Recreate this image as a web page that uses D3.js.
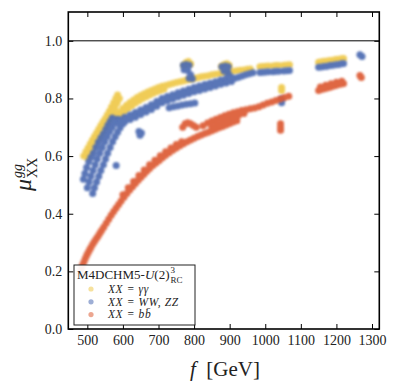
<!DOCTYPE html>
<html>
<head>
<meta charset="utf-8">
<script src="https://cdn.jsdelivr.net/npm/d3@7"></script>
<style>
  body { margin: 0; background: #fff; }
  text { font-family: "Liberation Serif", "DejaVu Serif", serif; }
</style>
</head>
<body>
<svg id="chart" width="399" height="391"></svg>
<script>
// tick values
var xTicks = [500, 600, 700, 800, 900, 1000, 1100, 1200, 1300];
var yTicks = [0, 0.2, 0.4, 0.6, 0.8, 1.0];
var refLine = [1.0];

// XX = gamma gamma  [f, mu]
var gammaPts = [
  [490,0.600],[496,0.615],[502,0.628],[508,0.642],[514,0.655],[520,0.668],[526,0.680],[532,0.693],
  [538,0.706],[544,0.718],[550,0.730],[556,0.743],[562,0.756],[568,0.770],[574,0.785],[580,0.800],[585,0.812],
  [500,0.595],[506,0.610],[512,0.622],[518,0.636],[524,0.650],[530,0.662],[536,0.675],[542,0.688],
  [548,0.700],[554,0.713],[560,0.726],[566,0.740],[572,0.755],[578,0.770],[584,0.785],[590,0.800],
  [580,0.740],[590,0.752],[600,0.765],[610,0.776],[620,0.786],[630,0.795],[640,0.803],[650,0.810],
  [660,0.816],[670,0.822],[680,0.828],[690,0.833],[700,0.838],[710,0.842],[720,0.845],[730,0.848],
  [740,0.852],[750,0.855],[760,0.858],[770,0.861],[780,0.864],[790,0.867],[800,0.870],[810,0.872],
  [820,0.875],[830,0.877],[840,0.879],[850,0.882],[860,0.884],[870,0.886],[880,0.888],[890,0.890],
  [900,0.892],[910,0.894],[920,0.896],[930,0.898],[940,0.899],[950,0.901],[958,0.902],
  [595,0.742],[605,0.754],[615,0.765],[625,0.775],[635,0.784],[645,0.792],[655,0.800],[665,0.806],
  [675,0.812],[685,0.818],[695,0.823],[705,0.828],[715,0.832],
  [772,0.915],[778,0.925],[784,0.928],[790,0.920],[878,0.912],[885,0.918],[892,0.920],[898,0.915],
  [985,0.910],[993,0.911],[1001,0.912],[1009,0.913],[1022,0.913],[1030,0.914],[1038,0.914],
  [1052,0.915],[1060,0.916],[1068,0.917],
  [1150,0.926],[1158,0.927],[1166,0.929],[1174,0.930],[1182,0.932],[1190,0.933],[1198,0.935],
  [1206,0.936],[1214,0.938],[1220,0.939],
  [1046,0.828],[1046,0.838]
];

// XX = WW, ZZ
var wwzzPts = [
  [489,0.520],[493,0.540],[498,0.560],[504,0.580],[510,0.595],[517,0.610],[524,0.630],[531,0.648],
  [538,0.663],[545,0.677],[552,0.692],[558,0.707],[564,0.720],[570,0.732],
  [500,0.490],[505,0.510],[510,0.530],[516,0.550],[522,0.570],[528,0.590],[535,0.610],[542,0.630],
  [549,0.650],[556,0.668],[563,0.685],[570,0.700],[577,0.715],[584,0.728],
  [515,0.470],[520,0.490],[526,0.510],[532,0.530],[538,0.550],[545,0.570],[551,0.590],[557,0.610],
  [564,0.630],[571,0.650],[578,0.667],[585,0.683],[592,0.698],[600,0.712],
  [590,0.727],[605,0.735],[620,0.743],[635,0.751],[650,0.760],[665,0.769],[680,0.778],[695,0.789],
  [710,0.800],[725,0.807],[740,0.813],[755,0.820],[770,0.826],[785,0.832],[800,0.838],[815,0.843],
  [830,0.848],[845,0.853],[860,0.858],[875,0.864],[890,0.869],[905,0.874],
  [590,0.711],[605,0.719],[620,0.727],[635,0.735],[650,0.744],[665,0.753],[680,0.762],[695,0.773],
  [710,0.785],[725,0.792],[740,0.798],[755,0.805],[770,0.811],[785,0.817],[800,0.823],[815,0.828],
  [830,0.833],[845,0.838],[860,0.843],[875,0.849],[890,0.854],[905,0.859],
  [915,0.870],[925,0.874],[935,0.878],[945,0.882],[955,0.886],[965,0.889],
  [730,0.768],[742,0.771],[754,0.774],[766,0.777],[778,0.780],[790,0.782],[802,0.784],
  [770,0.915],[778,0.918],[786,0.915],[772,0.900],[782,0.897],[790,0.882],[795,0.868],[786,0.870],
  [878,0.910],[888,0.913],[896,0.910],[884,0.895],[895,0.890],[900,0.878],
  [645,0.685],[652,0.680],[648,0.672],[581,0.567],
  [985,0.890],[993,0.891],[1001,0.892],[1009,0.893],[1022,0.893],[1030,0.894],[1038,0.894],
  [1052,0.895],[1060,0.896],[1068,0.897],
  [1150,0.908],[1158,0.909],[1166,0.911],[1174,0.912],[1182,0.914],[1190,0.915],[1198,0.917],
  [1206,0.918],[1214,0.920],[1220,0.921],
  [1046,0.785],[1046,0.797],[1266,0.952],[1272,0.946]
];

// XX = b bbar
var bbPts = [
  [478,0.190],[482,0.205],[486,0.220],[490,0.232],[494,0.244],[498,0.255],[502,0.265],[506,0.274],
  [510,0.283],[515,0.294],[520,0.304],[525,0.313],[530,0.322],[535,0.332],[540,0.342],[546,0.353],
  [553,0.367],[560,0.381],[567,0.395],[574,0.408],[581,0.420],[588,0.432],[595,0.444],[603,0.457],
  [611,0.470],[619,0.482],[627,0.494],[635,0.505],[643,0.516],[651,0.527],[659,0.537],[667,0.547],
  [675,0.557],[684,0.567],[693,0.576],[702,0.585],[711,0.594],[720,0.603],[730,0.612],[740,0.620],
  [750,0.628],[760,0.636],[770,0.643],[780,0.650],[790,0.656],[800,0.662],[810,0.668],[820,0.673],
  [830,0.678],[840,0.683],[850,0.688],[860,0.693],[870,0.698],[880,0.703],[890,0.708],[900,0.713],
  [910,0.718],[920,0.723],
  [600,0.466],[615,0.490],[630,0.512],[645,0.533],[660,0.552],[675,0.570],[690,0.586],[705,0.601],
  [720,0.615],[735,0.628],[750,0.640],[765,0.650],
  [768,0.700],[775,0.712],[782,0.716],[790,0.712],[798,0.706],[806,0.700],
  [825,0.705],[838,0.715],[850,0.722],[862,0.728],[874,0.734],[886,0.740],[898,0.745],[910,0.750],
  [922,0.754],[934,0.758],[946,0.761],[958,0.764],[970,0.767],[982,0.771],[994,0.777],[1006,0.783],
  [1018,0.788],[1030,0.793],[1042,0.798],[1054,0.803],[1066,0.808],
  [850,0.700],[865,0.710],[880,0.720],[895,0.728],[910,0.735],[925,0.742],[940,0.748],
  [1043,0.690],[1043,0.700],[1043,0.712],
  [1150,0.828],[1158,0.831],[1166,0.834],[1174,0.836],[1182,0.839],[1190,0.842],[1198,0.845],
  [1206,0.848],[1214,0.850],[1220,0.852],
  [1155,0.840],[1170,0.846],[1185,0.851],[1200,0.856],[1215,0.860],
  [1266,0.880],[1270,0.873]
];

var seriesNames = ["gamma", "wwzz", "bb"];
var seriesColors = ["#efc94c", "#4d6cb2", "#dd5c35"];
var legendLabels = ["XX = \u03b3\u03b3", "XX = WW, ZZ", "XX = bb\u0304"];

var svg = d3.select("#chart");
var plotL = 68.3, plotR = 379.3, plotT = 12, plotB = 329;

var x = d3.scaleLinear().domain([446.5, 1320.5]).range([plotL, plotR]);
var y = d3.scaleLinear().domain([0, 1.1]).range([plotB, plotT]);

// soft edges so the dense scatter reads as smooth bands
svg.append("defs").append("filter")
  .attr("id", "soft")
  .attr("x", "-10%").attr("y", "-10%").attr("width", "120%").attr("height", "120%")
  .append("feGaussianBlur").attr("stdDeviation", 0.9);

// points
var allSeries = [gammaPts, wwzzPts, bbPts];
allSeries.forEach(function (pts, i) {
  svg.append("g")
    .attr("class", "series-" + seriesNames[i])
    .attr("filter", "url(#soft)")
    .attr("opacity", 0.93)
    .selectAll("circle")
    .data(pts)
    .enter().append("circle")
    .attr("cx", function (d) { return x(d[0]); })
    .attr("cy", function (d) { return y(d[1]); })
    .attr("r", 3.5)
    .attr("fill", seriesColors[i]);
});

// reference line at 1.0
svg.selectAll(".ref")
  .data(refLine)
  .enter().append("line")
  .attr("class", "ref")
  .attr("x1", plotL).attr("x2", plotR)
  .attr("y1", function (d) { return y(d); })
  .attr("y2", function (d) { return y(d); })
  .attr("stroke", "#000")
  .attr("stroke-width", 1);

// axes with inward ticks
var fmtY = d3.format(".1f");
var fmtX = d3.format("d");
var gx = svg.append("g").attr("transform", "translate(0," + plotB + ")")
  .call(d3.axisBottom(x).tickValues(xTicks).tickSizeInner(-5).tickSizeOuter(0).tickPadding(6).tickFormat(fmtX));
var gxt = svg.append("g").attr("transform", "translate(0," + plotT + ")")
  .call(d3.axisTop(x).tickValues(xTicks).tickSizeInner(-5).tickSizeOuter(0).tickFormat(""));
var gy = svg.append("g").attr("transform", "translate(" + plotL + ",0)")
  .call(d3.axisLeft(y).tickValues(yTicks).tickSizeInner(-5).tickSizeOuter(0).tickPadding(6).tickFormat(fmtY));
var gyr = svg.append("g").attr("transform", "translate(" + plotR + ",0)")
  .call(d3.axisRight(y).tickValues(yTicks).tickSizeInner(-5).tickSizeOuter(0).tickFormat(""));

[gx, gxt, gy, gyr].forEach(function (g) {
  g.select(".domain").remove();
  g.selectAll("line").attr("stroke", "#000").attr("stroke-width", 1);
  g.selectAll("text")
    .attr("fill", "#222")
    .style("font-family", "'Liberation Serif', serif")
    .style("font-size", "14px");
});

// frame
svg.append("rect")
  .attr("x", plotL).attr("y", plotT)
  .attr("width", plotR - plotL).attr("height", plotB - plotT)
  .attr("fill", "none")
  .attr("stroke", "#000")
  .attr("stroke-width", 1.6);

// x label
var xl = svg.append("text")
  .attr("x", 225).attr("y", 376)
  .attr("text-anchor", "middle")
  .style("font-size", "21px")
  .attr("fill", "#222");
xl.append("tspan").style("font-style", "italic").text("f");
xl.append("tspan").text("\u2002[GeV]");

// y label
var yl = svg.append("g").attr("transform", "translate(31,191) rotate(-90)");
var mu = yl.append("text").attr("x", 0).attr("y", 0)
  .style("font-size", "24px").style("font-style", "italic").attr("fill", "#222").text("\u03bc");
var muW = mu.node().getComputedTextLength();
yl.append("text").attr("x", muW + 1).attr("y", -9)
  .style("font-size", "14px").style("font-style", "italic").attr("fill", "#222").text("gg");
yl.append("text").attr("x", muW + 1).attr("y", 6)
  .style("font-size", "14px").attr("fill", "#222").text("XX");

// legend
var leg = svg.append("g");
leg.append("rect")
  .attr("x", 74).attr("y", 265).attr("width", 121).attr("height", 60)
  .attr("fill", "#fff").attr("fill-opacity", 0.92)
  .attr("stroke", "#222").attr("stroke-width", 1);

var title = leg.append("text").attr("x", 77).attr("y", 279)
  .style("font-size", "13px").attr("fill", "#222");
title.append("tspan").text("M4DCHM5-");
title.append("tspan").style("font-style", "italic").text("U");
title.append("tspan").text("(2)");
var tW = title.node().getComputedTextLength();
leg.append("text").attr("x", 77 + tW + 1).attr("y", 273)
  .style("font-size", "9px").attr("fill", "#222").text("3");
leg.append("text").attr("x", 77 + tW + 1).attr("y", 283)
  .style("font-size", "9px").attr("fill", "#222").text("RC");

leg.selectAll(".lm")
  .data(legendLabels)
  .enter().append("circle")
  .attr("class", "lm")
  .attr("cx", 91)
  .attr("cy", function (d, i) { return 289 + i * 12.8; })
  .attr("r", 2.6)
  .attr("fill", function (d, i) { return seriesColors[i]; })
  .attr("fill-opacity", 0.55);

leg.selectAll(".lt")
  .data(legendLabels)
  .enter().append("text")
  .attr("class", "lt")
  .attr("x", 108)
  .attr("y", function (d, i) { return 293 + i * 12.6; })
  .style("font-size", "11.5px")
  .style("font-style", "italic")
  .style("letter-spacing", "0.6px")
  .attr("fill", "#222")
  .text(function (d) { return d; });
</script>
</body>
</html>
